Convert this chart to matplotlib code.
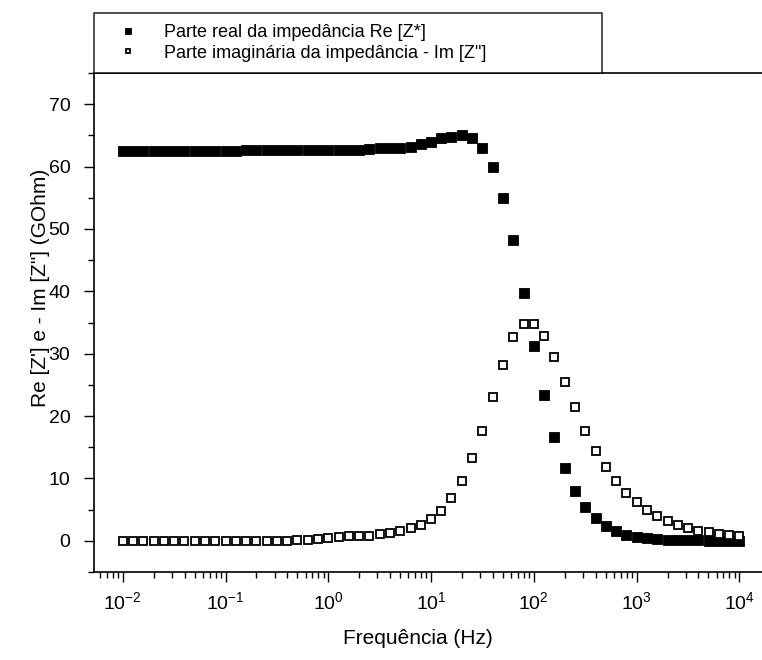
import numpy as np
import matplotlib
matplotlib.use('Agg')
import matplotlib.pyplot as plt
from matplotlib.ticker import FixedLocator, MultipleLocator, FuncFormatter, NullFormatter

plt.rcParams['font.family'] = ['Liberation Sans', 'DejaVu Sans']
plt.rcParams['mathtext.fontset'] = 'custom'
plt.rcParams['mathtext.rm'] = 'Liberation Sans'
plt.rcParams['mathtext.default'] = 'regular'

# %%
# Data (10 points per decade, 10 mHz - 10 kHz)
freq = [0.01, 0.0126, 0.0158, 0.02, 0.0251, 0.0316, 0.0398, 0.0501, 0.0631, 0.0794,
        0.1, 0.126, 0.158, 0.2, 0.251, 0.316, 0.398, 0.501, 0.631, 0.794,
        1.0, 1.26, 1.58, 2.0, 2.51, 3.16, 3.98, 5.01, 6.31, 7.94,
        10.0, 12.6, 15.8, 20.0, 25.1, 31.6, 39.8, 50.1, 63.1, 79.4,
        100.0, 126.0, 158.0, 200.0, 251.0, 316.0, 398.0, 501.0, 631.0, 794.0,
        1000.0, 1260.0, 1580.0, 2000.0, 2510.0, 3160.0, 3980.0, 5010.0, 6310.0, 7940.0,
        10000.0]

re_z = [62.5, 62.5, 62.5, 62.5, 62.5, 62.5, 62.5, 62.5, 62.5, 62.5,
        62.5, 62.5, 62.7, 62.7, 62.7, 62.7, 62.7, 62.7, 62.7, 62.7,
        62.7, 62.7, 62.7, 62.7, 62.8, 62.9, 62.9, 63.0, 63.2, 63.6,
        64.0, 64.5, 64.8, 65.0, 64.5, 63.0, 60.0, 55.0, 48.3, 39.7,
        31.2, 23.3, 16.7, 11.6, 8.0, 5.4, 3.6, 2.45, 1.65, 1.0,
        0.6, 0.4, 0.3, 0.2, 0.15, 0.1, 0.1, 0.05, 0.05, 0.05,
        0.05]

im_z = [0.05, 0.05, 0.05, 0.05, 0.05, 0.05, 0.05, 0.05, 0.05, 0.05,
        0.05, 0.05, 0.05, 0.05, 0.05, 0.05, 0.05, 0.15, 0.2, 0.3,
        0.43, 0.6, 0.7, 0.75, 0.85, 1.1, 1.3, 1.55, 2.0, 2.6,
        3.5, 4.85, 6.8, 9.6, 13.2, 17.6, 23.0, 28.2, 32.7, 34.7,
        34.7, 32.8, 29.4, 25.4, 21.4, 17.6, 14.4, 11.8, 9.6, 7.6,
        6.2, 4.95, 3.9, 3.1, 2.55, 2.0, 1.55, 1.4, 1.1, 0.96,
        0.75]

decades = [1e-2, 1e-1, 1e0, 1e1, 1e2, 1e3, 1e4]

re_label = 'Parte real da impedância Re [Z*]'
im_label = 'Parte imaginária da impedância - Im [Z"]'

# %%
fig = plt.figure(figsize=(7.62, 6.6), dpi=100)
ax = fig.add_axes([94/762, 88/660, 668/762, 499/660])

ax.plot(freq, re_z, 's', ms=6.6, mfc='black', mec='black', mew=0.6, label=re_label)
ax.plot(freq, im_z, 's', ms=5.9, mfc='white', mec='black', mew=1.3, label=im_label)

ax.set_xscale('log')
ax.set_xlim(10**-2.28, 10**4.22)
ax.set_ylim(-5, 75)

minors = [d * k for d in [1e-3] + decades for k in range(2, 10)]
ax.xaxis.set_major_locator(FixedLocator(decades))
ax.xaxis.set_minor_locator(FixedLocator(minors))
ax.xaxis.set_minor_formatter(NullFormatter())
ax.xaxis.set_major_formatter(FuncFormatter(lambda v, p: r'$10^{%d}$' % round(np.log10(v))))
ax.yaxis.set_major_locator(MultipleLocator(10))
ax.yaxis.set_minor_locator(MultipleLocator(5))

ax.tick_params(which='major', direction='out', length=7, width=1, labelsize=14)
ax.tick_params(which='minor', direction='out', length=4, width=1)
ax.tick_params(axis='y', which='major', pad=10)
ax.tick_params(axis='x', which='major', pad=7)
ax.spines['right'].set_visible(False)
for s in ['left', 'bottom', 'top']:
    ax.spines[s].set_linewidth(1.2)

ax.set_xlabel('Frequência (Hz)', fontsize=15)
ax.set_ylabel('Re [Z\'] e - Im [Z"] (GOhm)', fontsize=15)
ax.xaxis.set_label_coords(0.485, -0.115)
ax.yaxis.set_label_coords(-0.066, 0.57)

# legend box sits on top of the axes frame
leg = fig.legend(loc='lower left', bbox_to_anchor=(94/762, 587/660, 508/762, 61/660),
                 mode='expand', borderaxespad=0, fontsize=13, markerscale=0.6,
                 frameon=True, fancybox=False, edgecolor='black', labelspacing=0.22,
                 handletextpad=0.75, borderpad=0.62, handlelength=2.5)
leg.get_frame().set_linewidth(1.2)

plt.savefig('out.png', dpi=100)
